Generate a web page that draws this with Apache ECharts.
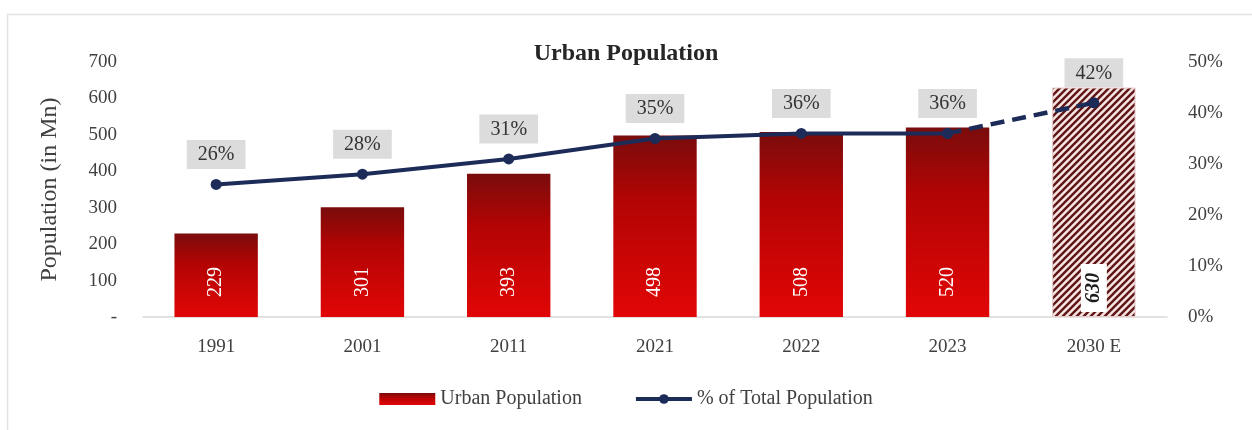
<!DOCTYPE html>
<html>
<head>
<meta charset="utf-8">
<script src="https://cdn.jsdelivr.net/npm/echarts@6/dist/echarts.min.js"></script>
<style>
  html, body { margin: 0; padding: 0; background: #ffffff; }
  #chart { width: 1252px; height: 430px; }
</style>
</head>
<body>
<div id="chart"></div>
<script>
// Urban population (millions) and share of total population (%)
const categories = ['1991', '2001', '2011', '2021', '2022', '2023', '2030 E'];
const urbanPopulation = [229, 301, 393, 498, 508, 520, 630];
const urbanShare = [26, 28, 31, 35, 36, 36, 42];
const estimateIndex = 6;           // the projected year is drawn hatched and dashed
const leftTicks = { min: 0, max: 700, interval: 100 };
const rightTicks = { min: 0, max: 50, interval: 10 };

const serif = '"Liberation Serif", "DejaVu Serif", serif';
const axisGrey = '#404040';

// Diagonal hatch used for the estimated bar
function hatchPattern() {
  const s = 7;
  const c = document.createElement('canvas');
  c.width = s; c.height = s;
  const g = c.getContext('2d');
  g.fillStyle = '#f6e4e2';
  g.fillRect(0, 0, s, s);
  g.strokeStyle = '#5e1616';
  g.lineWidth = 2.4;
  g.beginPath();
  g.moveTo(0, s); g.lineTo(s, 0);
  g.moveTo(-s / 2, s / 2); g.lineTo(s / 2, -s / 2);
  g.moveTo(s / 2, s * 1.5); g.lineTo(s * 1.5, s / 2);
  g.stroke();
  return c;
}

const barGradient = new echarts.graphic.LinearGradient(0, 0, 0, 1, [
  { offset: 0, color: '#7a0c0c' },
  { offset: 0.35, color: '#b20404' },
  { offset: 1, color: '#e20606' }
]);

const barData = urbanPopulation.map((v, i) => {
  if (i !== estimateIndex) return v;
  return {
    value: v,
    itemStyle: { color: { image: hatchPattern(), repeat: 'repeat' }, borderColor: '#e8c8c8', borderWidth: 1 },
    label: {
      color: '#1a1a1a', fontStyle: 'italic', fontWeight: 'bold',
      backgroundColor: '#ffffff', padding: [3, 9], distance: 5
    }
  };
});

const solidLine = urbanShare.map((v, i) => (i < estimateIndex ? v : null));
const dashedLine = urbanShare.map((v, i) => (i >= estimateIndex - 1 ? v : null));

const pctLabel = {
  show: true, position: 'top', distance: 10,
  formatter: '{c}%', fontFamily: serif, fontSize: 20, color: '#333333',
  backgroundColor: '#dcdcdc', padding: [5, 11, 4, 11]
};

const chart = echarts.init(document.getElementById('chart'), null, { renderer: 'canvas' });
chart.setOption({
  backgroundColor: '#ffffff',
  animation: false,
  textStyle: { fontFamily: serif },
  graphic: [{
    type: 'rect', silent: true, z: -10,
    shape: { x: 7.5, y: 14.5, width: 1300, height: 500 },
    style: { fill: 'none', stroke: '#e4e4e4', lineWidth: 1.5 }
  }],
  title: {
    text: 'Urban Population', left: 'center', top: 37,
    textStyle: { fontFamily: serif, fontSize: 24, fontWeight: 'bold', color: '#262626' }
  },
  legend: {
    bottom: 16, left: 'center', itemGap: 52, itemWidth: 56, itemHeight: 12,
    textStyle: { fontFamily: serif, fontSize: 20, color: axisGrey },
    data: [
      { name: 'Urban Population', icon: 'rect' },
      { name: '% of Total Population', lineStyle: { width: 4 } }
    ]
  },
  grid: { left: 143, right: 85, top: 62, bottom: 113 },
  xAxis: {
    type: 'category', data: categories,
    axisLine: { lineStyle: { color: '#d9d9d9', width: 1.5 } },
    axisTick: { show: false },
    axisLabel: { fontFamily: serif, fontSize: 19, color: axisGrey, margin: 21 }
  },
  yAxis: [{
    type: 'value', ...leftTicks,
    name: 'Population (in Mn)', nameLocation: 'middle', nameGap: 81,
    nameTextStyle: { fontFamily: serif, fontSize: 24, color: axisGrey },
    splitLine: { show: false }, axisLine: { show: false }, axisTick: { show: false },
    axisLabel: {
      fontFamily: serif, fontSize: 19, color: axisGrey, margin: 26,
      formatter: v => (v === 0 ? '-' : String(v))
    }
  }, {
    type: 'value', ...rightTicks,
    splitLine: { show: false }, axisLine: { show: false }, axisTick: { show: false },
    axisLabel: { fontFamily: serif, fontSize: 19, color: axisGrey, margin: 21, formatter: '{value}%' }
  }],
  series: [{
    name: 'Urban Population', type: 'bar', data: barData,
    barWidth: '57%',
    itemStyle: { color: barGradient },
    label: {
      show: true, position: 'insideBottom', distance: 20, rotate: 90,
      align: 'left', verticalAlign: 'middle',
      fontFamily: serif, fontSize: 20, color: '#ffffff'
    },
    z: 2
  }, {
    name: '% of Total Population', type: 'line', yAxisIndex: 1, data: solidLine,
    symbol: 'circle', symbolSize: 11,
    lineStyle: { color: '#1c2b58', width: 4 },
    itemStyle: { color: '#1c2b58' },
    label: pctLabel,
    z: 5
  }, {
    name: '% of Total Population (estimate)', type: 'line', yAxisIndex: 1, data: dashedLine,
    symbol: 'circle', symbolSize: 11,
    lineStyle: { color: '#1c2b58', width: 4.5, type: [14, 8] },
    itemStyle: { color: '#1c2b58' },
    label: { ...pctLabel, formatter: p => (p.dataIndex === estimateIndex ? p.value + '%' : '') },
    z: 4
  }]
});
</script>
</body>
</html>
